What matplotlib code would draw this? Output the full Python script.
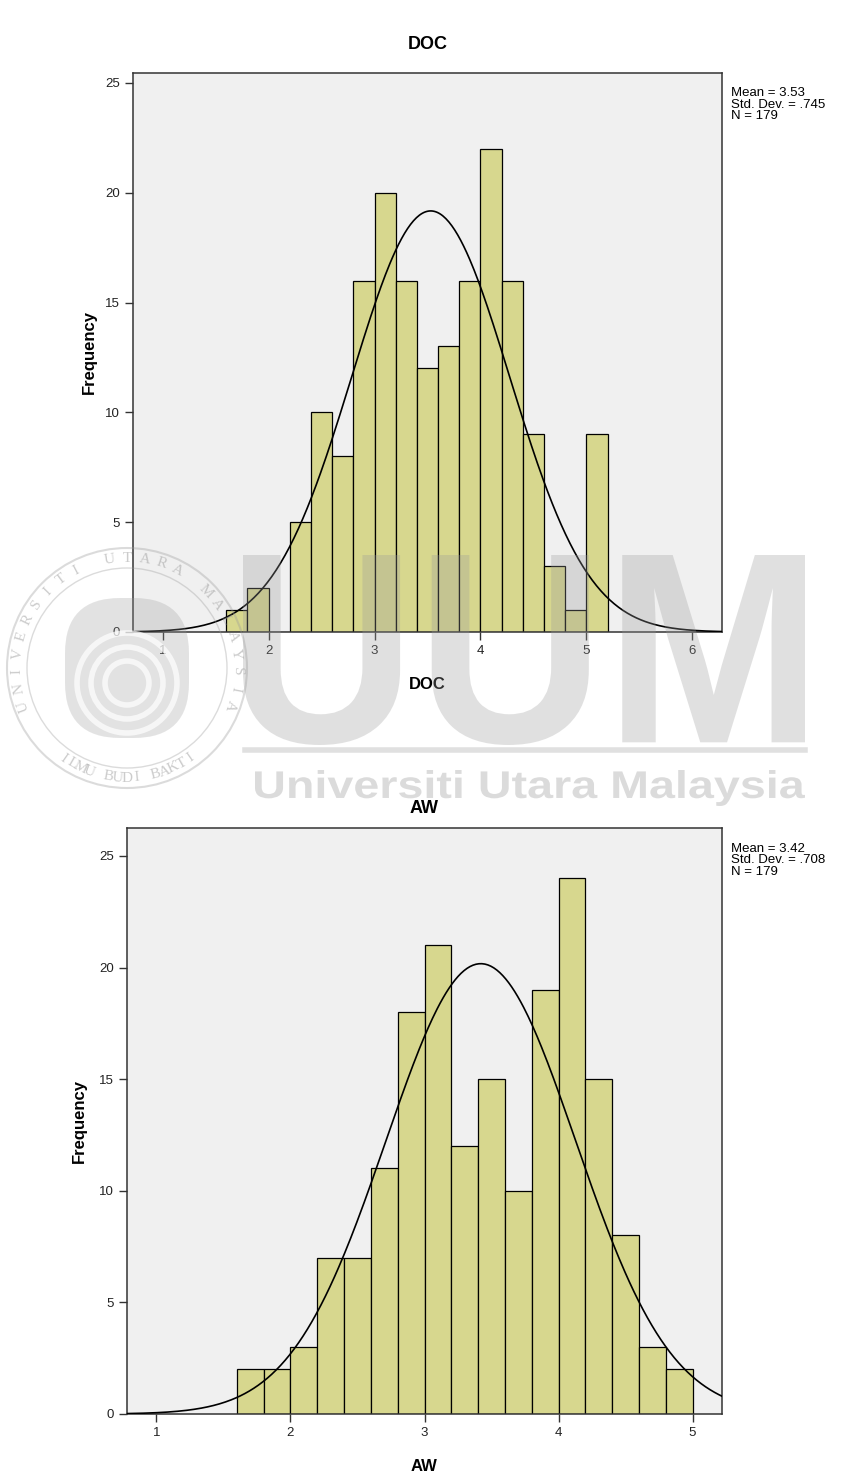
import numpy as np
import matplotlib
matplotlib.use("Agg")
import matplotlib.pyplot as plt
from matplotlib.textpath import TextPath
from matplotlib.font_manager import FontProperties
from matplotlib.patches import PathPatch, Circle, FancyBboxPatch
from matplotlib.transforms import Affine2D

plt.rcParams["font.family"] = ["Liberation Sans", "DejaVu Sans"]

# histogram counts, bins of width 0.2 starting at 1.6
doc_counts = [1, 2, 0, 5, 10, 8, 16, 20, 16, 12, 13, 16, 22, 16, 9, 3, 1, 9]
aw_counts = [2, 2, 3, 7, 7, 11, 18, 21, 12, 15, 10, 19, 24, 15, 8, 3, 2]
bin_start = 1.6
bin_width = 0.2

doc_stats = {"mean": 3.53, "sd": 0.745, "n": 179}
aw_stats = {"mean": 3.42, "sd": 0.708, "n": 179}

W, H = 847, 1481
fig = plt.figure(figsize=(W / 100, H / 100), dpi=100)
fig.patch.set_facecolor("white")

bar_color = "#d7d78e"
bg_color = "#f0f0f0"


def px_axes(left, top, right, bottom):
    return fig.add_axes([left / W, 1 - bottom / H, (right - left) / W, (bottom - top) / H])


def histo(ax, counts, stats, name, xlim, ylim, xticks, tpad, ypad):
    ax.set_facecolor(bg_color)
    edges = bin_start + bin_width * np.arange(len(counts))
    ax.bar(edges, counts, width=bin_width, align="edge", color=bar_color,
           edgecolor="black", linewidth=0.9, zorder=2)
    xs = np.linspace(xlim[0], xlim[1], 400)
    pdf = np.exp(-0.5 * ((xs - stats["mean"]) / stats["sd"]) ** 2) / (stats["sd"] * np.sqrt(2 * np.pi))
    ax.plot(xs, stats["n"] * bin_width * pdf, color="black", linewidth=1.2, zorder=3)
    ax.set_xlim(*xlim)
    ax.set_ylim(*ylim)
    ax.set_xticks(xticks)
    ax.set_yticks([0, 5, 10, 15, 20, 25])
    ax.tick_params(labelsize=9.5, length=6, width=1, color="#333333", labelcolor="#222222")
    for s in ax.spines.values():
        s.set_linewidth(1.1)
        s.set_color("#333333")
    ax.set_title(name, fontsize=13, fontweight="bold", pad=tpad)
    ax.set_xlabel(name, fontsize=12, fontweight="bold", labelpad=14)
    ax.set_ylabel("Frequency", fontsize=12, fontweight="bold", labelpad=ypad)
    sd_txt = ("%.3f" % stats["sd"]).lstrip("0")
    ax.text(1.015, 0.975, "Mean = %.2f\nStd. Dev. = %s\nN = %d" % (stats["mean"], sd_txt, stats["n"]),
            transform=ax.transAxes, fontsize=9.5, va="top", ha="left", linespacing=0.95)


ax1 = px_axes(133, 73, 722, 632)
histo(ax1, doc_counts, doc_stats, "DOC", (0.72, 6.28), (0, 25.45), [1, 2, 3, 4, 5, 6], 17, 6)

ax2 = px_axes(127, 828, 722, 1414)
histo(ax2, aw_counts, aw_stats, "AW", (0.78, 5.22), (0, 26.25), [1, 2, 3, 4, 5], 11, 9)


# faint university watermark across the middle of the page
wm = "#9a9a9a"


def path_in_box(text, box, alpha):
    tp = TextPath((0, 0), text, size=100, prop=FontProperties(family="Liberation Sans", weight="bold"))
    ext = tp.get_extents()
    x0, y0, x1, y1 = box
    sx = (x1 - x0) / ext.width
    sy = (y1 - y0) / ext.height
    tr = Affine2D().translate(-ext.x0, -ext.y0).scale(sx, sy).translate(x0, H - y1)
    tr = tr + Affine2D().scale(1 / W, 1 / H) + fig.transFigure
    return PathPatch(tp, transform=tr, facecolor=wm, edgecolor="none", alpha=alpha, zorder=10)


fig.patches.append(path_in_box("UUM", (243, 555, 805, 745), 0.3))
fig.patches.append(path_in_box("Universiti Utara Malaysia", (255, 770, 805, 806), 0.35))
fig.add_artist(plt.Line2D([245 / W, 805 / W], [1 - 750 / H, 1 - 750 / H], color=wm,
                          alpha=0.3, linewidth=4, transform=fig.transFigure, zorder=10))

# round seal on the left
cx, cy = 127, 668
to_fig = Affine2D().scale(1 / W, 1 / H) + fig.transFigure
for r, lw in [(120, 1.5), (100, 1.0)]:
    fig.patches.append(Circle((cx, H - cy), r, fill=False, edgecolor=wm, linewidth=lw,
                              alpha=0.35, transform=to_fig, zorder=10))
fig.patches.append(FancyBboxPatch((cx - 62, H - cy - 70), 124, 140, boxstyle="round,pad=0,rounding_size=55",
                                  facecolor=wm, edgecolor="none", alpha=0.28, transform=to_fig, zorder=10))
for r in [50, 36, 22]:
    fig.patches.append(Circle((cx, H - cy - 15), r, fill=False, edgecolor="white", linewidth=4,
                              alpha=0.7, transform=to_fig, zorder=11))


def ring_text(text, start_deg, end_deg, radius, flip):
    angles = np.linspace(np.radians(start_deg), np.radians(end_deg), len(text))
    for ch, a in zip(text, angles):
        x = cx + radius * np.cos(a)
        y = H - cy + radius * np.sin(a)
        rot = np.degrees(a) + (90 if flip else -90)
        fig.text(x / W, y / H, ch, fontsize=11, family="Liberation Serif", color=wm, alpha=0.5,
                 rotation=rot, ha="center", va="center", zorder=10)


ring_text("UNIVERSITI UTARA MALAYSIA", 200, -20, 110, False)
ring_text("ILMU BUDI BAKTI", 235, 305, 110, True)

fig.savefig("out.png", dpi=100)
